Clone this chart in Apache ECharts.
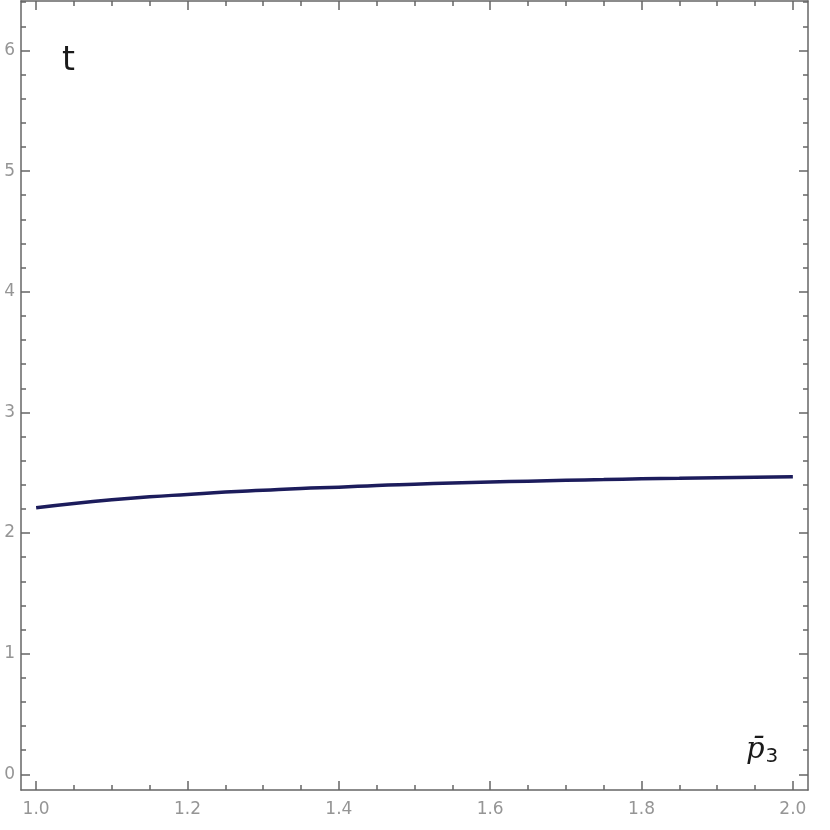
<!DOCTYPE html>
<html>
<head>
<meta charset="utf-8">
<script src="https://cdn.jsdelivr.net/npm/echarts@6/dist/echarts.min.js"></script>
<style>
  html, body { margin: 0; padding: 0; background: #fff; }
  #chart { width: 830px; height: 830px; }
</style>
</head>
<body>
<div id="chart"></div>
<script>
// curve t vs p3-bar
var pValues = [1.00, 1.05, 1.10, 1.15, 1.20, 1.25, 1.30, 1.35, 1.40, 1.45, 1.50,
               1.55, 1.60, 1.65, 1.70, 1.75, 1.80, 1.85, 1.90, 1.95, 2.00];
var tValues = [2.21, 2.245, 2.275, 2.30, 2.32, 2.34, 2.355, 2.37, 2.38, 2.395, 2.405,
               2.415, 2.423, 2.43, 2.437, 2.443, 2.449, 2.454, 2.459, 2.463, 2.467];

// ticks
var xMajor = [1.0, 1.2, 1.4, 1.6, 1.8, 2.0];
var xMinor = [1.05, 1.1, 1.15, 1.25, 1.3, 1.35, 1.45, 1.5, 1.55, 1.65, 1.7, 1.75,
              1.85, 1.9, 1.95];
var yMajor = [0, 1, 2, 3, 4, 5, 6];
var yMinor = [0.2, 0.4, 0.6, 0.8, 1.2, 1.4, 1.6, 1.8, 2.2, 2.4, 2.6, 2.8,
              3.2, 3.4, 3.6, 3.8, 4.2, 4.4, 4.6, 4.8, 5.2, 5.4, 5.6, 5.8, 6.2, 6.4];

var chart = echarts.init(document.getElementById('chart'));

var frameColor = '#666';
var labelColor = '#959595';

function frameAxis(pos, min, max, ticks, tickLen, withLabel, withLine) {
    return {
        type: 'value',
        position: pos,
        min: min,
        max: max,
        splitLine: { show: false },
        axisLine: { show: withLine, onZero: false, lineStyle: { color: frameColor, width: 1.5 } },
        axisTick: {
            show: true,
            inside: true,
            length: tickLen,
            customValues: ticks,
            lineStyle: { color: frameColor, width: 1.5 }
        },
        axisLabel: {
            show: withLabel,
            customValues: ticks,
            color: labelColor,
            fontFamily: 'DejaVu Sans',
            fontSize: 17,
            margin: pos === 'bottom' ? 11 : 6,
            formatter: function (v) {
                return (pos === 'bottom') ? v.toFixed(1) : String(v);
            }
        }
    };
}

var xMin = 0.98, xMax = 2.02;
var yMin = -0.13, yMax = 6.41;

var option = {
    backgroundColor: '#fff',
    animation: false,
    grid: { left: 21, right: 22, top: 1, bottom: 40 },
    xAxis: [
        frameAxis('bottom', xMin, xMax, xMajor, 9, true, true),
        frameAxis('bottom', xMin, xMax, xMinor, 5, false, false),
        frameAxis('top', xMin, xMax, xMajor, 9, false, true),
        frameAxis('top', xMin, xMax, xMinor, 5, false, false)
    ],
    yAxis: [
        frameAxis('left', yMin, yMax, yMajor, 9, true, true),
        frameAxis('left', yMin, yMax, yMinor, 5, false, false),
        frameAxis('right', yMin, yMax, yMajor, 9, false, true),
        frameAxis('right', yMin, yMax, yMinor, 5, false, false)
    ],
    graphic: [
        {
            type: 'text', left: 62, top: 45,
            style: { text: 't', fontSize: 33, fontFamily: 'DejaVu Sans', fill: '#1a1a1a' }
        },
        {
            type: 'text', left: 746, top: 736,
            style: {
                text: '{p|p\u0304}{s|3}',
                rich: {
                    p: { fontSize: 29, fontStyle: 'italic', fontFamily: 'DejaVu Serif', fill: '#1a1a1a' },
                    s: { fontSize: 20, fontFamily: 'DejaVu Sans', fill: '#1a1a1a', padding: [12, 0, 0, 1] }
                }
            }
        }
    ],
    series: [{
        type: 'line',
        xAxisIndex: 0,
        yAxisIndex: 0,
        data: pValues.map(function (p, i) { return [p, tValues[i]]; }),
        smooth: true,
        showSymbol: false,
        lineStyle: { color: '#1c1c5c', width: 3.5 }
    }]
};
chart.setOption(option);
</script>
</body>
</html>
